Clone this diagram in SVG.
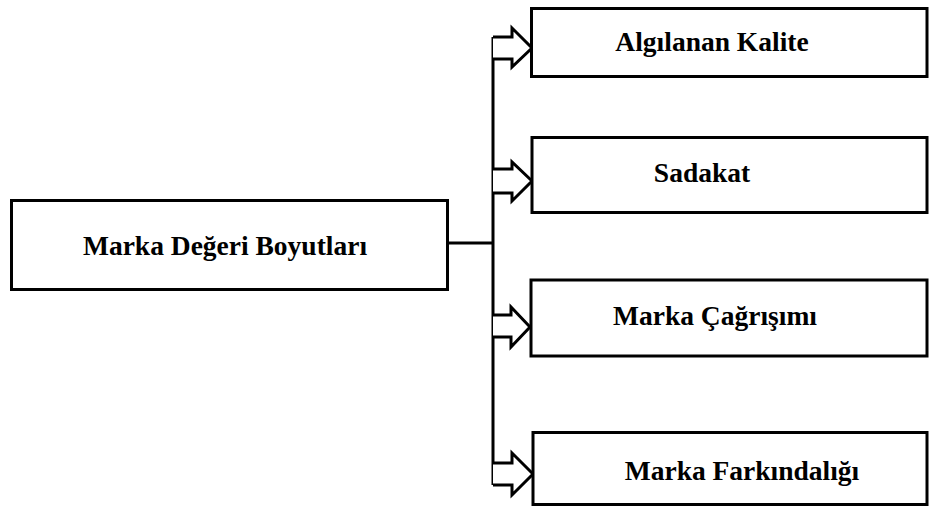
<svg xmlns="http://www.w3.org/2000/svg" width="930" height="509" viewBox="0 0 930 509">
<style>
.box{fill:#fff;stroke:#000;stroke-width:3}
.lbl{font-family:"Liberation Serif","Times New Roman",serif;font-weight:bold;font-size:27.5px;fill:#000;text-anchor:middle}
.ln{fill:none;stroke:#000;stroke-width:3}
.arr{fill:#fff;stroke:#000;stroke-width:3;stroke-linejoin:miter}
</style>
<rect width="930" height="509" fill="#fff"/>
<g id="connectors">
<line class="ln" x1="447" y1="243" x2="493" y2="243"/>
<line class="ln" x1="493" y1="37" x2="493" y2="485"/>
<path class="arr" d="M493,37 H512 V28 L532,48 L512,67 V59 H493"/>
<path class="arr" d="M493,169 H512 V162 L532,181 L512,201 V193 H493"/>
<path class="arr" d="M493,315 H511 V307 L530,327 L511,347 V337 H493"/>
<path class="arr" d="M493,463 H512 V453 L533,474 L512,495 V485 H493"/>
</g>
<g id="root">
<rect class="box" x="11.5" y="200.5" width="436" height="89"/>
<text class="lbl" x="225" y="255" font-size="28">Marka Değeri Boyutları</text>
</g>
<g id="n1">
<rect class="box" x="531.5" y="8.5" width="395.5" height="68"/>
<text class="lbl" x="712" y="51">Algılanan Kalite</text>
</g>
<g id="n2">
<rect class="box" x="532" y="137.5" width="395" height="75"/>
<text class="lbl" x="702" y="182">Sadakat</text>
</g>
<g id="n3">
<rect class="box" x="531" y="280" width="396" height="76"/>
<text class="lbl" x="715" y="325">Marka Çağrışımı</text>
</g>
<g id="n4">
<rect class="box" x="533" y="432.5" width="394" height="72"/>
<text class="lbl" x="742" y="480">Marka Farkındalığı</text>
</g>
</svg>
